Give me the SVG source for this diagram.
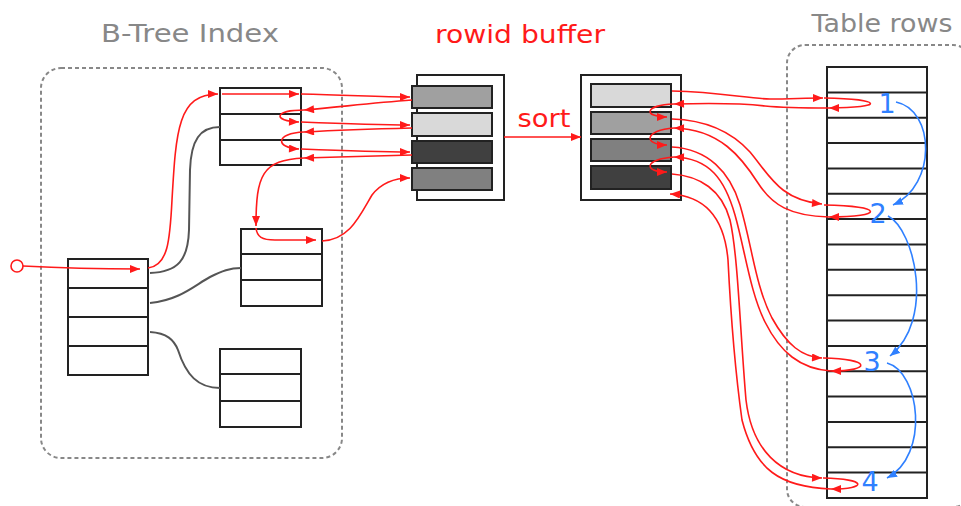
<svg xmlns="http://www.w3.org/2000/svg" width="961" height="506" viewBox="0 0 961 506">
<style>
.box{fill:#fff;stroke:#222;stroke-width:2}
.ln{stroke:#222;stroke-width:2}
.cont{fill:none;stroke:#888;stroke-width:2;stroke-dasharray:4 3}
.red{fill:none;stroke:#ff1a1a;stroke-width:1.6;marker-end:url(#ar)}
.gray{fill:none;stroke:#555;stroke-width:2}
.blue{fill:none;stroke:#2f80ff;stroke-width:1.6;marker-end:url(#ab)}
.bar{stroke:#222;stroke-width:2}
.title{font-family:"DejaVu Sans","Liberation Sans",sans-serif;font-size:24px}
.num{font-family:"DejaVu Sans","Liberation Sans",sans-serif;font-size:27px;fill:#2f80ff;text-anchor:middle}
</style>
<defs>
<marker id="ar" viewBox="0 0 10 8" refX="10" refY="4" markerWidth="11" markerHeight="8" markerUnits="userSpaceOnUse" orient="auto"><path d="M0,0 L10,4 L0,8 z" fill="#ff1a1a"/></marker>
<marker id="ab" viewBox="0 0 10 8" refX="10" refY="4" markerWidth="10" markerHeight="8" markerUnits="userSpaceOnUse" orient="auto"><path d="M0,0 L10,4 L0,8 z" fill="#2f80ff"/></marker>
</defs>
<rect width="961" height="506" fill="#fff"/>

<g id="containers">
<rect class="cont" x="41" y="68" width="301" height="390" rx="20"/>
<rect class="cont" x="787" y="45" width="184" height="462" rx="18"/>
</g>

<g id="titles">
<text class="title" x="190" y="42" text-anchor="middle" fill="#888" textLength="178" lengthAdjust="spacingAndGlyphs">B-Tree Index</text>
<text class="title" x="520" y="43" text-anchor="middle" fill="#ff1a1a" textLength="170" lengthAdjust="spacingAndGlyphs">rowid buffer</text>
<text class="title" x="882" y="32" text-anchor="middle" fill="#888" textLength="141" lengthAdjust="spacingAndGlyphs">Table rows</text>
</g>

<g id="node-root">
<rect class="box" x="68" y="259" width="80" height="116"/>
<line class="ln" x1="68" y1="288" x2="148" y2="288"/>
<line class="ln" x1="68" y1="317" x2="148" y2="317"/>
<line class="ln" x1="68" y1="346" x2="148" y2="346"/>
</g>
<g id="node-top">
<rect class="box" x="220" y="88" width="81" height="77"/>
<line class="ln" x1="220" y1="114" x2="301" y2="114"/>
<line class="ln" x1="220" y1="140" x2="301" y2="140"/>
</g>
<g id="node-mid">
<rect class="box" x="241" y="229" width="81" height="77"/>
<line class="ln" x1="241" y1="254" x2="322" y2="254"/>
<line class="ln" x1="241" y1="280" x2="322" y2="280"/>
</g>
<g id="node-bottom">
<rect class="box" x="220" y="349" width="81" height="78"/>
<line class="ln" x1="220" y1="374" x2="301" y2="374"/>
<line class="ln" x1="220" y1="401" x2="301" y2="401"/>
</g>

<g id="buffer-unsorted">
<rect class="box" x="417" y="75" width="87" height="125"/>
<rect class="bar" x="412" y="86" width="80" height="22" fill="#a0a0a0"/>
<rect class="bar" x="412" y="113" width="80" height="23" fill="#d9d9d9"/>
<rect class="bar" x="412" y="141" width="80" height="22" fill="#404040"/>
<rect class="bar" x="412" y="168" width="80" height="22" fill="#808080"/>
</g>
<g id="buffer-sorted">
<rect class="box" x="581" y="75" width="100" height="125"/>
<rect class="bar" x="591" y="84" width="80" height="23" fill="#d9d9d9"/>
<rect class="bar" x="591" y="112" width="80" height="22" fill="#a0a0a0"/>
<rect class="bar" x="591" y="139" width="80" height="22" fill="#808080"/>
<rect class="bar" x="591" y="166" width="80" height="23" fill="#404040"/>
</g>
<text id="sort-label" class="title" x="544" y="127" text-anchor="middle" fill="#ff1a1a" font-size="22" textLength="53" lengthAdjust="spacingAndGlyphs">sort</text>

<g id="table">
<rect class="box" x="827" y="67" width="100" height="431"/>
<g class="ln">
<line x1="827" y1="92.4" x2="927" y2="92.4"/>
<line x1="827" y1="117.7" x2="927" y2="117.7"/>
<line x1="827" y1="143.1" x2="927" y2="143.1"/>
<line x1="827" y1="168.4" x2="927" y2="168.4"/>
<line x1="827" y1="193.8" x2="927" y2="193.8"/>
<line x1="827" y1="219.1" x2="927" y2="219.1"/>
<line x1="827" y1="244.5" x2="927" y2="244.5"/>
<line x1="827" y1="269.8" x2="927" y2="269.8"/>
<line x1="827" y1="295.2" x2="927" y2="295.2"/>
<line x1="827" y1="320.5" x2="927" y2="320.5"/>
<line x1="827" y1="345.9" x2="927" y2="345.9"/>
<line x1="827" y1="371.2" x2="927" y2="371.2"/>
<line x1="827" y1="396.6" x2="927" y2="396.6"/>
<line x1="827" y1="421.9" x2="927" y2="421.9"/>
<line x1="827" y1="447.3" x2="927" y2="447.3"/>
<line x1="827" y1="472.6" x2="927" y2="472.6"/>
</g>
<text class="num" x="887" y="113">1</text>
<text class="num" x="878" y="223">2</text>
<text class="num" x="872" y="371">3</text>
<text class="num" x="870" y="491">4</text>
</g>

<g id="connectors">
<path class="gray" d="M150,273 C178,272 188,260 189,230 L190,170 C191,140 200,127 220,127"/>
<path class="gray" d="M150,303 C180,300 195,285 210,277 C222,271 230,268 241,268"/>
<path class="gray" d="M150,332 C167,333 174,340 178,350 C186,375 198,388 220,388"/>
<circle cx="17" cy="266" r="6" fill="#fff" stroke="#ff1a1a" stroke-width="1.6"/>
<path class="red" d="M23,266 C60,268 100,269 140,269"/>
<path class="red" d="M148,268 C168,266 170,240 172,200 C176,130 178,94 218,94"/>
<path class="red" d="M222,94 L299,94"/>
<path class="red" d="M301,94 C350,95 380,97 410,97"/>
<path class="red" d="M412,100 C370,103 340,107 304,110"/>
<path class="red" d="M304,110 C274,110 272,121 299,122"/>
<path class="red" d="M301,122 C350,124 380,125 410,125"/>
<path class="red" d="M412,128 C370,129 340,130 304,132"/>
<path class="red" d="M304,132 C275,133 275,148 299,149"/>
<path class="red" d="M301,149 C350,151 380,152 410,152"/>
<path class="red" d="M412,155 C370,156 340,157 304,158"/>
<path class="red" d="M304,158 C262,160 256,175 256,226"/>
<path class="red" d="M256,228 C257,237 262,240 275,240 L316,240"/>
<path class="red" d="M322,241 C350,240 360,215 372,195 C382,182 395,178 410,178"/>
<path class="red" d="M504,137 L581,137"/>
<path class="red" d="M672,91 C720,92 750,99 770,99 C790,99 805,98 823,98"/>
<path class="red" d="M824,98 C885,99 885,108 829,108"/>
<path class="red" d="M829,108 C800,108 785,108 765,106 C740,103 710,103 674,104"/>
<path class="red" d="M674,104 C644,105 643,117 667,117"/>
<path class="red" d="M672,119 C705,120 730,130 750,152 C770,176 780,200 822,204"/>
<path class="red" d="M824,205 C885,206 885,217 829,217"/>
<path class="red" d="M829,217 C790,216 772,205 758,183 C742,158 720,129 674,128"/>
<path class="red" d="M674,128 C644,130 643,145 667,145"/>
<path class="red" d="M672,147 C708,149 730,172 740,205 C752,245 755,285 772,318 C787,345 802,357 822,358"/>
<path class="red" d="M823,358 C872,359 872,371 831,371"/>
<path class="red" d="M831,371 C800,369 780,352 765,322 C750,292 745,250 735,215 C725,180 710,158 674,157"/>
<path class="red" d="M674,157 C644,159 643,172 667,172"/>
<path class="red" d="M672,174 C700,176 722,190 730,220 C738,255 740,330 746,400 C752,450 780,477 822,478"/>
<path class="red" d="M823,478 C868,479 868,489 831,489"/>
<path class="red" d="M831,489 C780,487 755,470 742,420 C735,370 730,300 728,260 C725,225 710,196 670,194"/>
<path class="blue" d="M896,102 C935,110 937,185 893,205"/>
<path class="blue" d="M888,216 C915,230 935,320 890,356"/>
<path class="blue" d="M887,363 C920,372 930,455 887,478"/>
</g>
</svg>
